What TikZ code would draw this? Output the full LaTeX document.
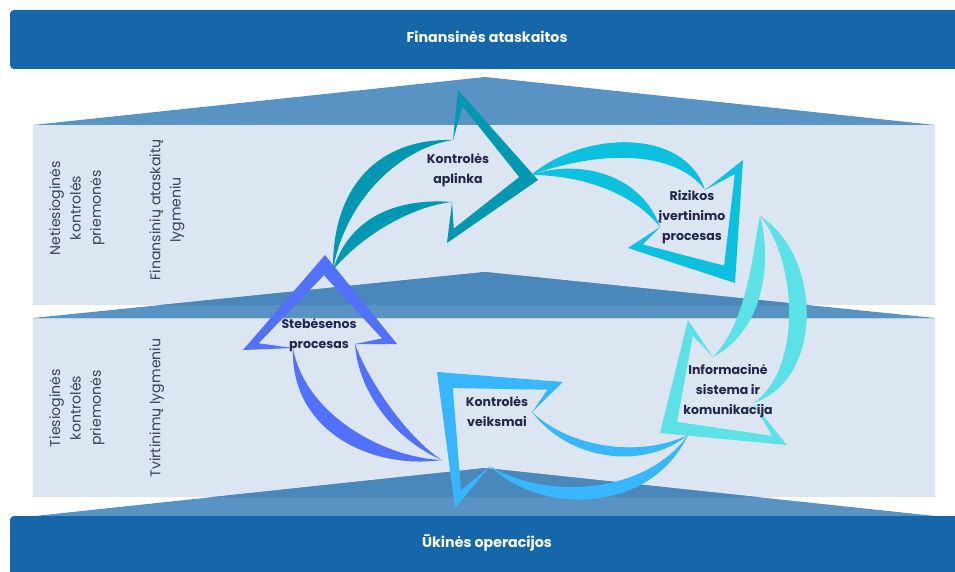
\documentclass[tikz,border=0pt]{standalone}
\usepackage{fontspec}
\setmainfont{Poppins}
\usetikzlibrary{calc}
\definecolor{bannerblue}{HTML}{1667A9}
\definecolor{panelfill}{HTML}{DCE6F2}
\definecolor{trilight}{HTML}{5993C3}
\definecolor{tridark}{HTML}{4A87BA}
\definecolor{labelnavy}{HTML}{23264A}
\definecolor{sidegrey}{HTML}{3A3F5C}
\definecolor{arrA}{HTML}{0097B2}
\definecolor{arrB}{HTML}{0CC0DF}
\definecolor{arrC}{HTML}{5CE1E6}
\definecolor{arrD}{HTML}{38B6FF}
\definecolor{arrE}{HTML}{5271FF}
\tikzset{
  banner/.style={fill=bannerblue, rounded corners=4bp},
  bannertext/.style={text=white, font=\fontsize{14.3}{16}\selectfont\bfseries},
  panel/.style={fill=panelfill},
  steplabel/.style={text=labelnavy, align=center, font=\fontsize{12.6}{20}\selectfont\bfseries},
  sidelabel/.style={text=sidegrey, align=center, rotate=90, font=\fontsize{14.2}{20.5}\selectfont},
}
% head of a cycle arrow: prefix, colour
\newcommand\cyclehead[2]{%
  \coordinate (#1G) at (barycentric cs:#1C1=1,#1P=1,#1C2=1);
  \fill[#2] (#1N1) -- (#1C1) -- (#1P) -- (#1C2) -- (#1N2)
    -- ($(#1C2)!0.2!(#1G)$) -- ($(#1P)!0.33!(#1G)$) -- ($(#1C1)!0.2!(#1G)$) -- cycle;
}
\begin{document}
\begin{tikzpicture}[x=1bp,y=-1bp]
\useasboundingbox (0,0) rectangle (955,572);
\begin{scope}
\clip (0,0) rectangle (955,572);
% panels
\fill[panel] (33,125) rectangle (935,305);
\fill[panel] (33,318) rectangle (935,497);
% triangles
\fill[trilight] (33,125) -- (485,77) -- (935,125) -- cycle;
\fill[trilight] (33,318) -- (485,272) -- (935,318) -- cycle;
\fill[trilight] (35,516) -- (485,468) -- (935,516) -- cycle;
\begin{scope}
  \clip (33,125) rectangle (935,305) (33,318) rectangle (935,497);
  \fill[tridark] (33,318) -- (485,272) -- (935,318) -- cycle;
  \fill[tridark] (35,516) -- (485,468) -- (935,516) -- cycle;
\end{scope}
% banners
\fill[banner] (10,10) rectangle (975,69);
\fill[banner] (10,516) rectangle (975,600);
\node[bannertext] (top) at (487,37) {Finansinės ataskaitos};
\node[bannertext] (bottom) at (487,543) {Ūkinės operacijos};
% side labels
\node[sidelabel] (ind) at (77,208) {Netiesioginės\\kontrolės\\priemonės};
\node[sidelabel] (fin) at (167,210) {Finansinių ataskaitų\\lygmeniu};
\node[sidelabel] (dir) at (77,408) {Tiesioginės\\kontrolės\\priemonės};
\node[sidelabel] (tvi) at (157,408) {Tvirtinimų lygmeniu};

% ---- arrow E: Stebesenos
\coordinate (eT) at (442,460); \coordinate (eN1) at (293,348); \coordinate (eN2) at (355,344);
\coordinate (eC1) at (243,350); \coordinate (eP) at (325,255); \coordinate (eC2) at (397,344);
\fill[arrE] (eT) .. controls (370,470) and (290,430) .. (eN1) .. controls (305,415) and (385,458) .. (eT) -- cycle;
\fill[arrE] (eT) .. controls (395,440) and (358,392) .. (eN2) .. controls (370,385) and (410,440) .. (eT) -- cycle;
\cyclehead{e}{arrE}

% ---- arrow A: Kontroles aplinka
\coordinate (aT) at (333,270); \coordinate (aN1) at (453,140); \coordinate (aN2) at (452,202);
\coordinate (aC1) at (458,90); \coordinate (aP) at (538,180); \coordinate (aC2) at (447,243);
\fill[arrA] (aT) .. controls (332,185) and (380,138) .. (aN1) .. controls (400,148) and (345,200) .. (aT) -- cycle;
\fill[arrA] (aT) .. controls (350,215) and (400,198) .. (aN2) .. controls (415,206) and (365,232) .. (aT) -- cycle;
\cyclehead{a}{arrA}

% ---- arrow B: Rizikos
\coordinate (bT) at (531,175); \coordinate (bN1) at (705,190); \coordinate (bN2) at (660,227);
\coordinate (bC1) at (743,160); \coordinate (bP) at (735,283); \coordinate (bC2) at (628,248);
\fill[arrB] (bT) .. controls (585,130) and (685,128) .. (bN1) .. controls (675,150) and (600,150) .. (bT) -- cycle;
\fill[arrB] (bT) .. controls (580,158) and (642,175) .. (bN2) .. controls (635,195) and (585,175) .. (bT) -- cycle;
\cyclehead{b}{arrB}

% ---- arrow C: Informacine sistema
\coordinate (cT) at (760,216); \coordinate (cN1) at (713,357); \coordinate (cN2) at (753,403);
\coordinate (cC1) at (688,320); \coordinate (cP) at (660,433); \coordinate (cC2) at (787,445);
\fill[arrC] (cT) .. controls (752,255) and (748,320) .. (cN1) .. controls (765,330) and (772,260) .. (cT) -- cycle;
\fill[arrC] (cT) .. controls (797,260) and (803,370) .. (cN2) .. controls (825,380) and (822,255) .. (cT) -- cycle;
\cyclehead{c}{arrC}

% ---- arrow D: Kontroles veiksmai
\coordinate (dT) at (688,435); \coordinate (dN1) at (532,412); \coordinate (dN2) at (490,466);
\coordinate (dC1) at (563,382); \coordinate (dP) at (437,372); \coordinate (dC2) at (455,508);
\fill[arrD] (dT) .. controls (640,458) and (570,448) .. (dN1) .. controls (570,462) and (645,470) .. (dT) -- cycle;
\fill[arrD] (dT) .. controls (645,495) and (545,500) .. (dN2) .. controls (540,515) and (650,515) .. (dT) -- cycle;
\cyclehead{d}{arrD}

% labels
\node[steplabel] (la) at (458,170) {Kontrolės\\aplinka};
\node[steplabel] (lb) at (692,217) {Rizikos\\įvertinimo\\procesas};
\node[steplabel] (lc) at (728,391) {Informacinė\\sistema ir\\komunikacija};
\node[steplabel] (ld) at (497,412) {Kontrolės\\veiksmai};
\node[steplabel] (le) at (319,335) {Stebėsenos\\procesas};
\end{scope}
\end{tikzpicture}
\end{document}
